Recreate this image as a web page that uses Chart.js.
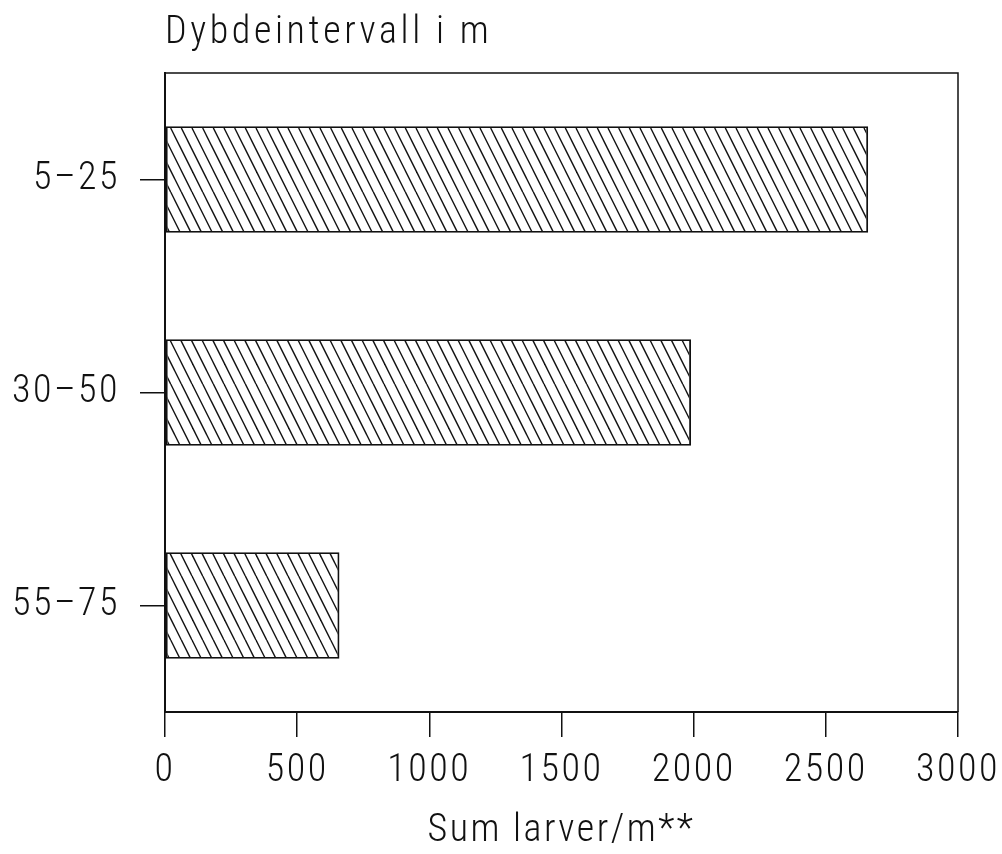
<!DOCTYPE html>
<html>
<head>
<meta charset="utf-8">
<script src="https://cdn.jsdelivr.net/npm/chart.js@4.4.1/dist/chart.umd.min.js"></script>
<style>
  html, body { margin: 0; padding: 0; background: #fff; }
  canvas { display: block; }
</style>
</head>
<body>
<canvas id="larverChart" width="1002" height="854"></canvas>
<script>
const depthRanges = ['5–25', '30–50', '55–75'];
const larvaeSum = [2660, 1990, 660];
const xTicks = [0, 500, 1000, 1500, 2000, 2500, 3000];

const INK = '#111';
const FAMILY = 'Roboto, sans-serif';
// thin condensed face, close to a plotter lettering
// (Chart.js only accepts normal/italic as style, so the stretch rides along with the weight)
const plotFont = {family: FAMILY, size: 38, weight: '300 condensed'};

// diagonal hatching, lines running top-left to bottom-right
function hatchPattern() {
  const w = 32, h = 64;
  const tile = document.createElement('canvas');
  tile.width = w;
  tile.height = h;
  const g = tile.getContext('2d');
  g.strokeStyle = INK;
  g.lineWidth = 1.4;
  for (let k = -3; k <= 3; k++) {
    const x0 = k * w / 3;
    g.beginPath();
    g.moveTo(x0, 0);
    g.lineTo(x0 + w, h);
    g.stroke();
  }
  return g.createPattern(tile, 'repeat');
}

const framePlugin = {
  id: 'frame',
  beforeDraw(chart) {
    chart.ctx.letterSpacing = '2.5px';
  },
  afterDraw(chart) {
    const {ctx, chartArea: a} = chart;
    ctx.save();
    ctx.strokeStyle = INK;
    ctx.lineWidth = 1.5;
    ctx.beginPath();
    ctx.moveTo(a.left, a.top);
    ctx.lineTo(a.right, a.top);
    ctx.lineTo(a.right, a.bottom);
    ctx.stroke();
    // axis caption above the plot
    ctx.fillStyle = INK;
    ctx.font = '300 condensed 38px ' + FAMILY;
    ctx.letterSpacing = '3.6px';
    ctx.textAlign = 'left';
    ctx.textBaseline = 'alphabetic';
    ctx.fillText('Dybdeintervall i m', a.left, 43);
    ctx.restore();
  }
};

new Chart(document.getElementById('larverChart'), {
  type: 'bar',
  data: {
    labels: depthRanges,
    datasets: [{
      data: larvaeSum,
      backgroundColor: hatchPattern(),
      borderColor: INK,
      borderWidth: 1.8,
      borderSkipped: false,
      categoryPercentage: 1,
      barPercentage: 0.5
    }]
  },
  options: {
    indexAxis: 'y',
    responsive: false,
    animation: false,
    layout: {padding: {top: 73, right: 44, left: 0, bottom: 0}},
    plugins: {
      legend: {display: false},
      tooltip: {enabled: false}
    },
    scales: {
      x: {
        min: 0,
        max: 3000,
        afterBuildTicks: s => { s.ticks = xTicks.map(v => ({value: v})); },
        afterFit: s => {
          s.height = 142;
          s.paddingLeft = 0;
          s.paddingRight = 0;
        },
        grid: {drawOnChartArea: false, drawTicks: true, tickLength: 25, color: INK, lineWidth: 1.5},
        border: {color: INK, width: 2},
        ticks: {
          font: plotFont,
          color: INK,
          padding: 12,
          maxRotation: 0,
          autoSkip: false,
          callback: v => String(v)
        },
        title: {display: true, text: 'Sum larver/m**', font: plotFont, color: INK, padding: {top: 10, bottom: 0}}
      },
      y: {
        afterFit: s => { s.width = 165; },
        grid: {offset: false, drawOnChartArea: false, drawTicks: true, tickLength: 25, color: INK, lineWidth: 1.5},
        border: {color: INK, width: 2},
        ticks: {font: plotFont, color: INK, padding: 20}
      }
    }
  },
  plugins: [framePlugin]
});
</script>
</body>
</html>
